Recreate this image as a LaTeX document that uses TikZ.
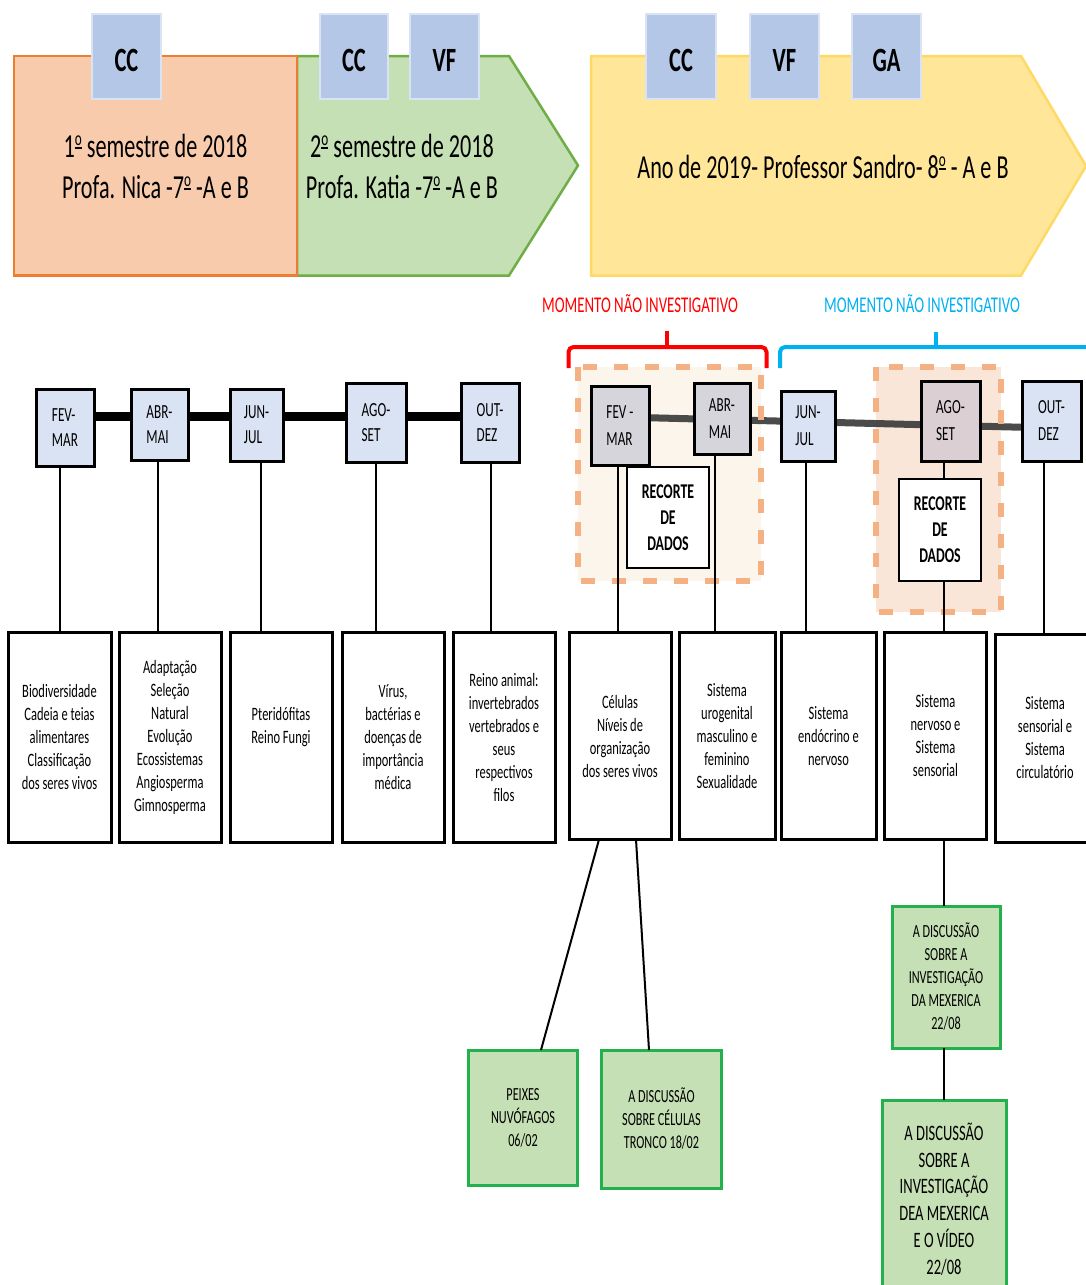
\documentclass[tikz,border=0pt]{standalone}
\usepackage{fontspec}
\setmainfont{Carlito}[FakeStretch=0.66]
\definecolor{peach}{HTML}{F8CBAD}
\definecolor{peachedge}{HTML}{ED7D31}
\definecolor{leaf}{HTML}{C5E0B4}
\definecolor{leafedge}{HTML}{70AD47}
\definecolor{sun}{HTML}{FFE699}
\definecolor{sunedge}{HTML}{FFD966}
\definecolor{tagfill}{HTML}{B4C7E7}
\definecolor{tagedge}{HTML}{DAE3F3}
\definecolor{monthfill}{HTML}{DAE3F3}
\definecolor{monthgrey}{HTML}{D5D5DB}
\definecolor{monthmauve}{HTML}{DCCFD4}
\definecolor{notered}{HTML}{FF0000}
\definecolor{noteblue}{HTML}{00B0F0}
\definecolor{cutedge}{HTML}{F4B183}
\definecolor{cutfillA}{HTML}{FBF5EC}
\definecolor{cutfillB}{HTML}{F9E6D9}
\definecolor{eventfill}{HTML}{C5E0B4}
\definecolor{eventedge}{HTML}{22B14C}
\definecolor{railgrey}{HTML}{3C3C3C}
% ordinal indicator with its bar underneath
\newcommand{\ordm}{\raisebox{12pt}{\fontsize{20}{20}\selectfont\rlap{\rule[-3.5pt]{6.9pt}{2pt}}o}}
\begin{document}
\begin{tikzpicture}[x=1pt,y=-1pt,
  every node/.style={inner sep=0pt, outer sep=0pt},
  dims/.style 2 args={minimum width=#1, minimum height=#2},
  tag/.style={draw=tagedge, line width=2, fill=tagfill, text height=30pt, text depth=0pt,
    font=\fontsize{34}{40}\selectfont\bfseries},
  banner/.style={align=center, font=\fontsize{33.6}{41}\selectfont},
  month/.style={draw=black, line width=3, fill=monthfill, align=left, font=\fontsize{20}{25}\selectfont},
  monthR/.style={month, font=\fontsize{20}{27}\selectfont},
  topic/.style={draw=black, line width=3, fill=white, align=center, font=\fontsize{18.9}{23}\selectfont},
  cutbox/.style={draw=black, line width=1.5, fill=white, align=center, font=\fontsize{21}{26}\selectfont\bfseries},
  event/.style={draw=eventedge, line width=3, fill=eventfill, align=center, font=\fontsize{18.5}{23}\selectfont},
  note/.style={font=\fontsize{22.5}{26}\selectfont},
  link/.style={draw=black, line width=2},
  brace/.style={line width=4, rounded corners=5},
  zone/.style={draw=cutedge, line width=6, dash pattern=on 14pt off 17pt}
]
\useasboundingbox (0,0) rectangle (1086,1285);
\clip (0,0) rectangle (1086,1285);

% ---------- period banners ----------
\filldraw[fill=leaf, draw=leafedge, line width=2.5]
  (297,56) -- (509,56) -- (578,165.5) -- (509,275.5) -- (297,275.5) -- cycle;
\node[draw=peachedge, fill=peach, line width=2.5, dims={283}{219.5}] (sem1) at (155.5,165.75) {};
\node[banner] (sem1txt) at (155.5,166.5) {1\ordm{} semestre de 2018\\Profa. Nica -7\ordm{} -A e B};
\node[banner] (sem2txt) at (402,166.5) {2\ordm{} semestre de 2018\\Profa. Katia -7\ordm{} -A e B};
\filldraw[fill=sun, draw=sunedge, line width=2.5]
  (591,56) -- (1021,56) -- (1086,166) -- (1021,275.5) -- (591,275.5) -- cycle;
\node[banner] (anotxt) at (823,167) {Ano de 2019- Professor Sandro- 8\ordm{} - A e B};

% ---------- instrument tags ----------
\node[tag, dims={69}{85}] (tagA) at (126.5,56.5) {CC};
\node[tag, dims={68}{85}] (tagB) at (354,56.5) {CC};
\node[tag, dims={69}{85}] (tagC) at (444.5,56.5) {VF};
\node[tag, dims={70}{85}] (tagD) at (681,56.5) {CC};
\node[tag, dims={69}{85}] (tagE) at (784.5,56.5) {VF};
\node[tag, dims={69}{85}] (tagF) at (886.5,56.5) {GA};

% ---------- moment labels and brackets ----------
\node[note, text=notered] (momA) at (640,304) {MOMENTO NÃO INVESTIGATIVO};
\node[note, text=noteblue] (momB) at (922,304) {MOMENTO NÃO INVESTIGATIVO};
\draw[brace, notered] (568.5,368) -- (568.5,347) -- (766.5,347) -- (766.5,368);
\draw[line width=4, notered] (667,349) -- (667,331);
\draw[brace, noteblue] (780,368) -- (780,347) -- (1095,347);
\draw[line width=4, noteblue] (936,349) -- (936,332);

% ---------- 2018 timeline ----------
\draw[line width=9] (36,416) -- (519,416);
\node[month, dims={58}{77}] (t1) at (65,427.5) {FEV-\\MAR};
\node[month, dims={57}{71}] (t2) at (159.5,424.5) {ABR-\\MAI};
\node[month, dims={53}{72}] (t3) at (256.5,425) {JUN-\\JUL};
\node[month, dims={60}{79}] (t4) at (376,422.5) {AGO-\\SET};
\node[month, dims={58}{79}] (t5) at (490,422.5) {OUT-\\DEZ};

% ---------- 2019 timeline ----------
\fill[cutfillA] (578,367) rectangle (761,581);
\fill[cutfillB] (875.5,367) rectangle (1000.5,612);
\draw[line width=7, railgrey, opacity=0.92] (620,417) -- (1051,428);
\node[monthR, fill=monthgrey, dims={58}{79}] (r1) at (620,425.5) {FEV -\\MAR};
\node[monthR, fill=monthgrey, dims={56}{71}] (r2) at (722,418.5) {ABR-\\MAI};
\node[monthR, dims={54}{70}] (r3) at (808,426) {JUN-\\JUL};
\node[monthR, fill=monthmauve, dims={59}{80}] (r4) at (950.5,421) {AGO-\\SET};
\node[monthR, dims={59}{80}] (r5) at (1051.5,421) {OUT-\\DEZ};
\draw[zone] (578,367) rectangle (761,581);
\draw[zone] (875.5,367) rectangle (1000.5,612);
\node[cutbox, dims={82}{101}] (cut1) at (668,517.5) {RECORTE\\DE\\DADOS};
\node[cutbox, dims={82}{102}] (cut2) at (940,530) {RECORTE\\DE\\DADOS};

% ---------- topic boxes ----------
\node[topic, dims={103}{210}] (c1) at (59.5,737) {Biodiversidade\\Cadeia e teias\\alimentares\\Classificação\\dos seres vivos};
\node[topic, dims={102}{210}] (c2) at (170,737) {Adaptação\\Seleção\\Natural\\Evolução\\Ecossistemas\\Angiosperma\\Gimnosperma};
\node[topic, dims={102}{210}] (c3) at (281,737) {Pteridófitas\\Reino Fungi\\~};
\node[topic, dims={102}{210}] (c4) at (393,737) {Vírus,\\bactérias e\\doenças de\\importância\\médica};
\node[topic, dims={102}{210}] (c5) at (504,737) {Reino animal:\\invertebrados\\vertebrados e\\seus\\respectivos\\filos};
\node[topic, dims={102}{207}] (c6) at (620,736) {Células\\Níveis de\\organização\\dos seres vivos};
\node[topic, dims={96}{207}] (c7) at (727,736) {Sistema\\urogenital\\masculino e\\feminino\\Sexualidade};
\node[topic, dims={95}{207}] (c8) at (828.5,736) {Sistema\\endócrino e\\nervoso};
\node[topic, dims={102}{207}] (c9) at (935.5,736) {Sistema\\nervoso e\\Sistema\\sensorial};
\node[topic, dims={100}{208}] (c10) at (1045,738) {Sistema\\sensorial e\\Sistema\\circulatório};

% ---------- month to topic links ----------
\draw[link] (t1.south -| 60,0) -- (c1.north -| 60,0);
\draw[link] (t2.south -| 158,0) -- (c2.north -| 158,0);
\draw[link] (t3.south -| 261,0) -- (c3.north -| 261,0);
\draw[link] (t4.south -| 376,0) -- (c4.north -| 376,0);
\draw[link] (t5.south -| 491,0) -- (c5.north -| 491,0);
\draw[link] (r1.south -| 618,0) -- (c6.north -| 618,0);
\draw[link] (r2.south -| 715,0) -- (c7.north -| 715,0);
\draw[link] (r3.south -| 806,0) -- (c8.north -| 806,0);
\draw[link] (r4.south -| 944,0) -- (cut2.north -| 944,0);
\draw[link] (cut2.south -| 944,0) -- (c9.north -| 944,0);
\draw[link] (r5.south -| 1044,0) -- (c10.north -| 1044,0);

% ---------- recorded discussions ----------
\node[event, dims={109}{135}] (ev1) at (523,1117.5) {PEIXES\\NUVÓFAGOS\\06/02};
\node[event, dims={120}{138}] (ev2) at (661.5,1119) {A DISCUSSÃO\\SOBRE CÉLULAS\\TRONCO 18/02};
\node[event, dims={108}{142}] (mex1) at (946,977) {A DISCUSSÃO\\SOBRE A\\INVESTIGAÇÃO\\DA MEXERICA\\22/08};
\node[event, dims={124}{198}, font=\fontsize{22}{26.8}\selectfont] (mex2) at (944,1199) {A DISCUSSÃO\\SOBRE A\\INVESTIGAÇÃO\\DEA MEXERICA\\E O VÍDEO\\22/08};

\draw[link] (c6.south -| 599,0) -- (ev1.north -| 541,0);
\draw[link] (c6.south -| 636,0) -- (ev2.north -| 649,0);
\draw[link] (c9.south -| 944,0) -- (mex1.north -| 944,0);
\draw[link] (mex1.south -| 943.5,0) -- (mex2.north -| 943.5,0);
\end{tikzpicture}
\end{document}
